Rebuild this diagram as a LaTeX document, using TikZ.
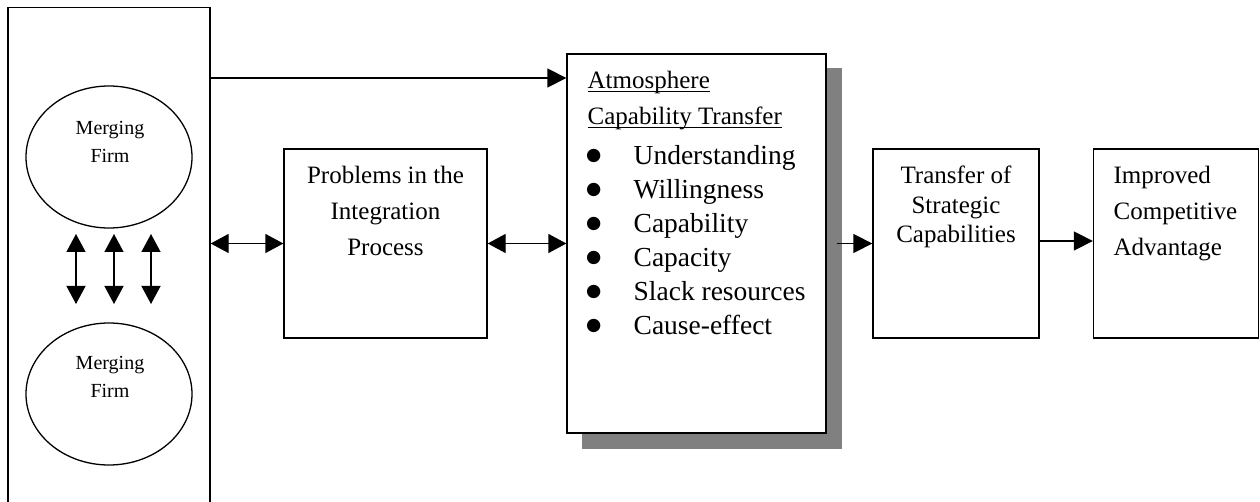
\documentclass[tikz,border=0pt]{standalone}
\usepackage{fontspec}
\setmainfont{Liberation Serif}
\newfontfamily\dejavu{DejaVu Sans}
\usetikzlibrary{arrows.meta,calc,shapes.geometric}
\definecolor{shadowgray}{HTML}{808080}
\newcommand\myul[1]{\setbox0\hbox{#1}\rlap{\rule[-3pt]{\wd0}{1.2pt}}\box0}
\newcommand\bul{\makebox[45pt][l]{\hspace{-2.5pt}\raisebox{3.5pt}{\dejavu\fontsize{17.5}{20}\selectfont ●}}}
\begin{document}
\begin{tikzpicture}[x=1pt,y=-1pt,line width=1.3pt,
  boxnode/.style={draw,fill=white,inner sep=0pt},
  txt/.style={inner sep=0pt,font=\fontsize{25}{#1}\selectfont},
  arr/.style={-{Triangle[length=19pt,width=19pt]}},
  dbl/.style={{Triangle[length=18pt,width=19pt]}-{Triangle[length=18pt,width=19pt]}}]
\useasboundingbox (0,0) rectangle (1260,502);
\clip (0,0) rectangle (1260,502);
% left column with the two firms
\node[boxnode,minimum width=202pt,minimum height=540pt,anchor=north] (firms) at (109,7) {};
\node[draw,ellipse,minimum width=166pt,minimum height=142pt,inner sep=0pt] (f1) at (109,157) {};
\node[draw,ellipse,minimum width=166pt,minimum height=142pt,inner sep=0pt] (f2) at (109,394) {};
\node[inner sep=0pt,font=\fontsize{20}{28}\selectfont,align=center,anchor=north] (f1t) at (110,121) {Merging\\Firm};
\node[inner sep=0pt,font=\fontsize{20}{28}\selectfont,align=center,anchor=north] (f2t) at (110,356) {Merging\\Firm};
\foreach \i/\x in {1/76,2/114,3/151}{
  \coordinate (u\i) at (\x,234);
  \coordinate (d\i) at (\x,304);
  \draw[dbl] (u\i) -- (d\i);
}
% problems box
\node[boxnode,minimum width=203pt,minimum height=189pt] (prob) at (385.5,243.5) {};
\node[txt=36,align=center,anchor=north] (probt) at (385.5,166) {Problems in the\\Integration\\Process};
% middle box with shadow
\node[fill=shadowgray,minimum width=260pt,minimum height=380pt,inner sep=0pt] (shadow) at (712,258.5) {};
\node[boxnode,minimum width=259pt,minimum height=379pt] (mid) at (696.5,243.5) {};
\node[txt=36,align=left,anchor=north west] (midh) at (587,71) {\myul{Atmosphere}\\\myul{Capability Transfer}};
\node[inner sep=0pt,font=\fontsize{27.5}{34}\selectfont,align=left,anchor=north west] (midl) at (588,144.5)
 {\bul Understanding\\
  \bul Willingness\\
  \bul Capability\\
  \bul Capacity\\
  \bul Slack resources\\
  \bul Cause-effect};
% transfer box
\node[boxnode,minimum width=166pt,minimum height=189pt] (trans) at (956,243.5) {};
\node[txt=29.5,align=center,anchor=north] (transt) at (956,165.5) {Transfer of\\Strategic\\Capabilities};
% improved box
\node[boxnode,minimum width=165pt,minimum height=189pt] (impr) at (1176,243.5) {};
\node[txt=36,align=left,anchor=north west] (imprt) at (1113,166) {Improved\\Competitive\\Advantage};
% connectors
\draw[arr] (firms.east |- 0,78) -- (mid.west |- 0,78);
\draw[dbl] (firms.east |- prob.west) -- (prob.west);
\draw[dbl] (prob.east) -- (mid.west |- prob.east);
\draw[arr] ($(mid.east |- trans.west)+(10,0)$) -- (trans.west);
\draw[arr] (trans.east |- 0,241) -- (impr.west |- 0,241);
\end{tikzpicture}
\end{document}
